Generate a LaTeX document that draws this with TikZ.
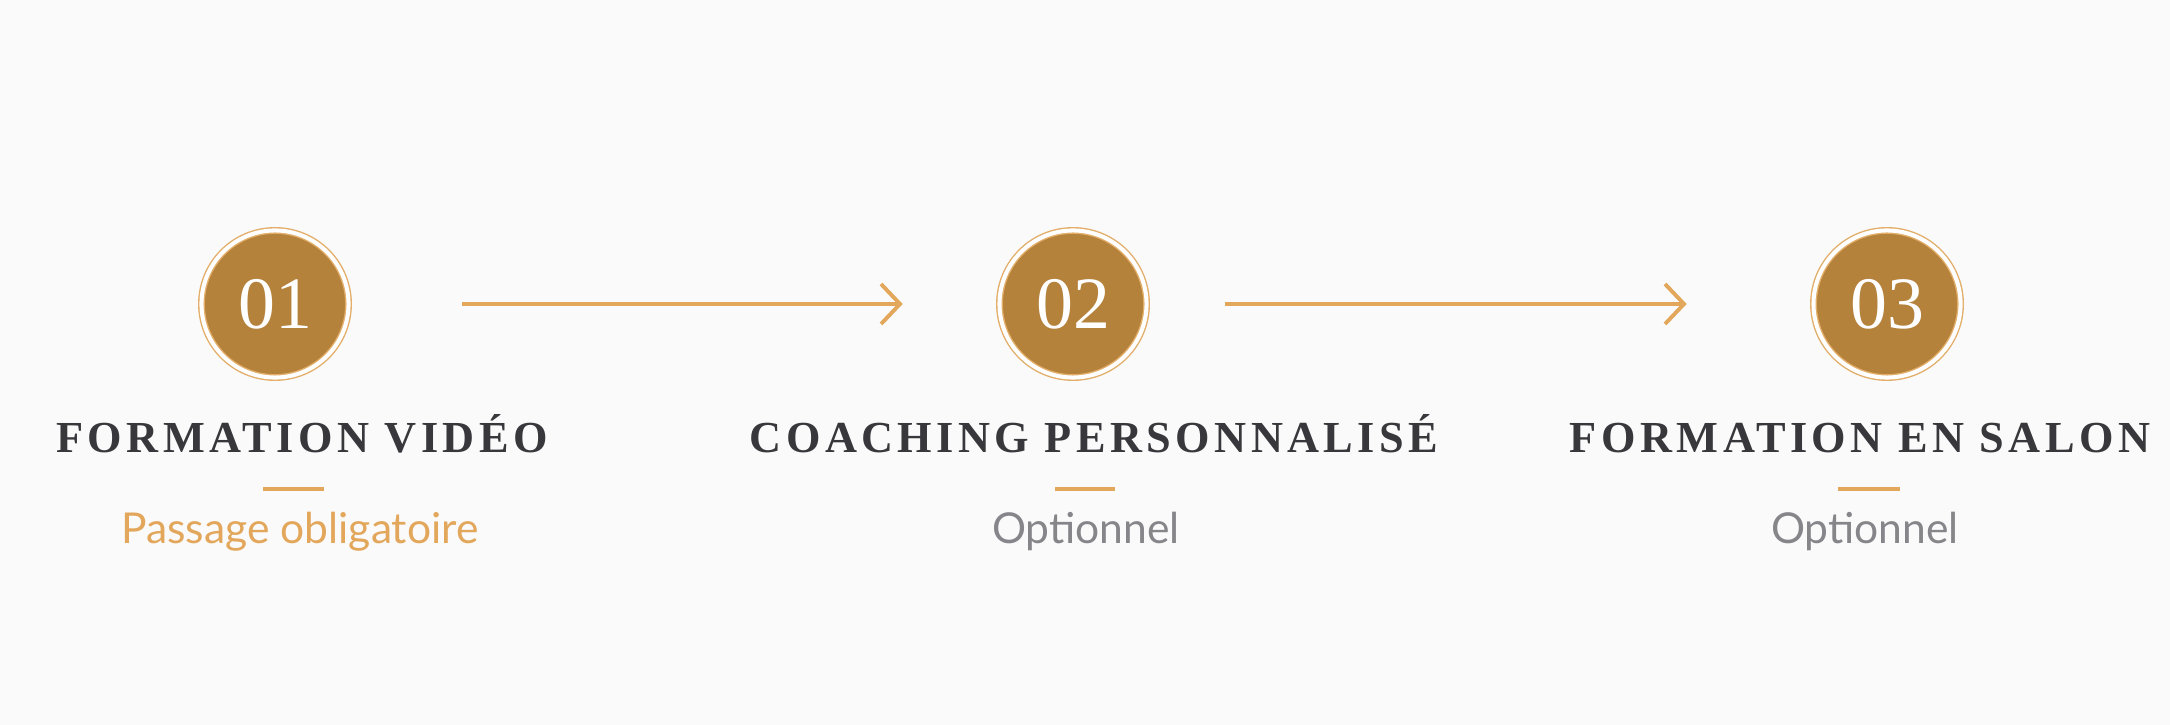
\documentclass[tikz,border=0pt]{standalone}
\usepackage{fontspec}
\usepackage{tikz}
\usetikzlibrary{arrows.meta}
\setmainfont{Liberation Serif}
\newfontfamily\titlefont[LetterSpace=10]{Liberation Serif}
\newfontfamily\subfont{Lato}
\definecolor{bronze}{HTML}{B5823C}
\definecolor{ringgold}{HTML}{E2AE6A}
\definecolor{arrowgold}{HTML}{E3A75C}
\definecolor{titlegray}{HTML}{38383C}
\definecolor{subgray}{HTML}{85858A}
\definecolor{paper}{HTML}{FAFAFA}
\tikzset{
  stepcircle/.style={circle,fill=bronze,draw=ringgold,line width=0.4pt,double=white,double distance=1.15pt,minimum size=1.47cm,inner sep=0pt,text=white,font=\fontsize{21}{21}\selectfont},
  steptitle/.style={anchor=base,text=titlegray,font=\titlefont\bfseries\fontsize{12.6}{14}\selectfont},
  stepsub/.style={anchor=base,font=\subfont\fontsize{12.1}{14}\selectfont},
  flow/.style={draw=arrowgold,line width=1.1pt,-{Straight Barb[length=0.19cm,width=0.4cm]}},
  bar/.style={draw=arrowgold,line width=0.9pt}
}
\begin{document}
\begin{tikzpicture}[x=0.01cm,y=-0.01cm]
\fill[paper] (0,0) rectangle (2170,725);
\useasboundingbox (0,0) rectangle (2170,725);
% steps
\node[stepcircle] (c1) at (275,304) {01};
\node[stepcircle] (c2) at (1073,304) {02};
\node[stepcircle] (c3) at (1887,304) {03};
% arrows
\draw[flow,shorten <=1.13cm,shorten >=0.96cm] (c1) -- (c2);
\draw[flow,shorten <=0.78cm,shorten >=1.26cm] (c2) -- (c3);
% titles
\node[steptitle] (t1) at (302,453) {FORMATION VIDÉO};
\node[steptitle] (t2) at (1094,453) {COACHING PERSONNALISÉ};
\node[steptitle] (t3) at (1860,453) {FORMATION EN SALON};
% bars
\draw[bar] (263,489) -- (324,489);
\draw[bar] (1055,489) -- (1115,489);
\draw[bar] (1838,489) -- (1900,489);
% subtitles
\node[stepsub,text=arrowgold] (s1) at (300,544) {Passage obligatoire};
\node[stepsub,text=subgray] (s2) at (1086,544) {Optionnel};
\node[stepsub,text=subgray] (s3) at (1865,544) {Optionnel};
\end{tikzpicture}
\end{document}
